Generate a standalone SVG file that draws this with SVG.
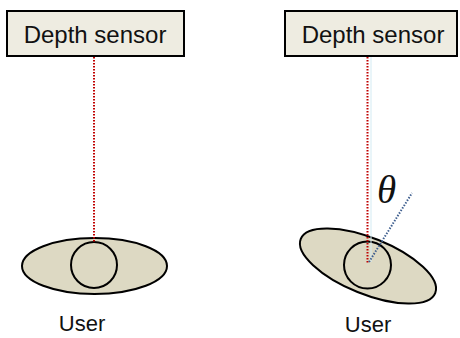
<svg xmlns="http://www.w3.org/2000/svg" width="460" height="338" viewBox="0 0 460 338">
  <style>
    .box { fill: #eeece1; stroke: #000; stroke-width: 2; }
    .label { font-family: "Liberation Sans", Arial, sans-serif; fill: #111; }
    .body { fill: #ddd9c3; stroke: #000; stroke-width: 2; }
    .head { fill: #ddd9c3; stroke: #000; stroke-width: 2; }
    .ray { stroke: #c00000; stroke-width: 2; stroke-dasharray: 1.5 1.5; fill: none; }
    .tilt { stroke: #3f5f8f; stroke-width: 2; stroke-dasharray: 1.5 1.5; fill: none; }
    .guide { stroke: #d4ebf3; stroke-width: 1; fill: none; }
  </style>

  <rect width="460" height="338" fill="#fff"/>

  <!-- left: upright user -->
  <g id="sensor-left">
    <rect class="box" x="7" y="11" width="177" height="45"/>
    <text class="label" x="95" y="43" font-size="24" text-anchor="middle">Depth sensor</text>
  </g>
  <g id="user-left">
    <ellipse class="body" cx="94.5" cy="266" rx="72.5" ry="28"/>
    <circle class="head" cx="94" cy="265" r="23"/>
    <text class="label" x="82" y="331" font-size="22" text-anchor="middle">User</text>
  </g>

  <!-- right: tilted user -->
  <g id="sensor-right">
    <rect class="box" x="285" y="11" width="172" height="45"/>
    <text class="label" x="373" y="43" font-size="24" text-anchor="middle">Depth sensor</text>
  </g>
  <g id="user-right">
    <ellipse class="body" cx="368" cy="266" rx="72.5" ry="28" transform="rotate(22 368 266)"/>
    <circle class="head" cx="367.5" cy="265" r="23.5"/>
    <text class="label" x="368" y="332" font-size="22" text-anchor="middle">User</text>
  </g>

  <g id="connectors">
    <line class="ray" x1="94" y1="57" x2="94" y2="242"/>
    <line class="guide" x1="371" y1="57" x2="371" y2="262"/>
    <line class="ray" x1="367.5" y1="57" x2="367.5" y2="264"/>
    <line class="tilt" x1="369" y1="262" x2="412" y2="193"/>
  </g>

  <g id="angle">
    <text x="386.5" y="203" font-family="'Liberation Serif', 'Times New Roman', serif" font-style="italic" font-size="39" text-anchor="middle" fill="#111">θ</text>
  </g>
</svg>
